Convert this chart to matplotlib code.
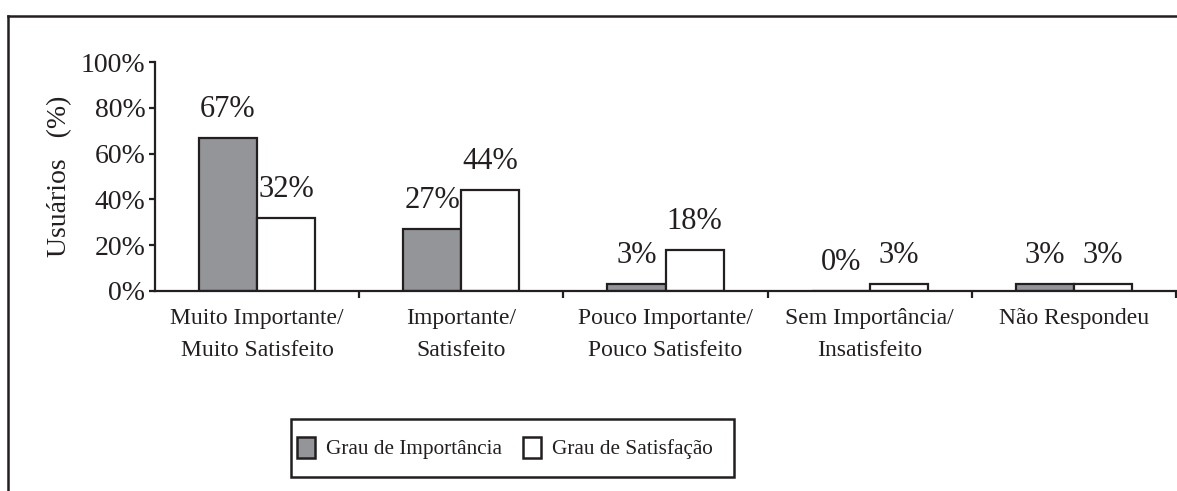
import matplotlib.pyplot as plt
import numpy as np
from matplotlib.lines import Line2D
from matplotlib.patches import Patch, Rectangle

# ---------- Data ----------
categories = [
    "Muito Importante/\nMuito Satisfeito",
    "Importante/\nSatisfeito",
    "Pouco Importante/\nPouco Satisfeito",
    "Sem Importância/\nInsatisfeito",
    "Não Respondeu",
]
importancia = [67, 27, 3, 0, 3]
satisfacao = [32, 44, 18, 3, 3]
yticks = [0, 20, 40, 60, 80, 100]

# ---------- Style ----------
GRAY = "#939598"
EDGE = "#231f20"
plt.rcParams["font.family"] = ["Liberation Serif", "DejaVu Serif"]

W, H = 1177, 491
fig = plt.figure(figsize=(W / 100, H / 100), dpi=100)
fig.patch.set_facecolor("white")

# axes placed in pixel terms
ax = fig.add_axes([155 / W, (H - 291) / H, (1176 - 155) / W, (291 - 62) / H])

x = np.arange(len(categories))
bw = 0.285
b1 = ax.bar(x - bw / 2, importancia, bw, color=GRAY, edgecolor=EDGE, lw=1.6)
b2 = ax.bar(x + bw / 2, satisfacao, bw, color="white", edgecolor=EDGE, lw=1.6)

ax.bar_label(b1, labels=[f"{v}%" for v in importancia], padding=10,
             fontsize=22, color=EDGE)
ax.bar_label(b2, labels=[f"{v}%" for v in satisfacao], padding=10,
             fontsize=22, color=EDGE)

ax.set_xlim(-0.5, len(categories) - 0.5)
ax.set_ylim(0, 100)
ax.set_yticks(yticks)
ax.set_yticklabels([f"{v}%" for v in yticks], fontsize=20, color=EDGE)

# boundary ticks below axis, labels at category centres
ax.set_xticks(np.arange(len(categories)) + 0.5)
ax.set_xticklabels([])
ax.set_xticks(x, minor=True)
ax.set_xticklabels(categories, minor=True, fontsize=17, color=EDGE,
                   linespacing=1.7)
ax.tick_params(axis="x", which="minor", length=0, pad=12)
ax.tick_params(axis="x", which="major", length=5, width=1.6, color=EDGE)
ax.tick_params(axis="y", length=4, width=1.6, color=EDGE, pad=3)

for s in ["top", "right"]:
    ax.spines[s].set_visible(False)
for s in ["left", "bottom"]:
    ax.spines[s].set_linewidth(1.6)
    ax.spines[s].set_color(EDGE)

ax.set_ylabel("Usuários   (%)", fontsize=20, color=EDGE, labelpad=6)

# ---------- Legend ----------
handles = [
    Patch(facecolor=GRAY, edgecolor=EDGE, lw=1.8),
    Patch(facecolor="white", edgecolor=EDGE, lw=1.8),
]
leg = fig.legend(handles, ["Grau de Importância", "Grau de Satisfação"],
                 loc="center left", bbox_to_anchor=(297 / W, 1 - 448 / H),
                 ncol=2, fontsize=15.3, frameon=False,
                 handlelength=0.85, handleheight=1.15, handletextpad=0.5,
                 columnspacing=1.0, borderpad=0, borderaxespad=0)
for t in leg.get_texts():
    t.set_color(EDGE)

# legend frame, drawn separately so its padding matches the original
fig.add_artist(Rectangle((291 / W, 1 - 477 / H), (734 - 291) / W, 58 / H,
                         transform=fig.transFigure, fill=False,
                         edgecolor=EDGE, lw=1.8))

# ---------- Outer frame (left and top only visible) ----------
fig.add_artist(Line2D([8 / W, 8 / W], [0, 1 - 16 / H], color=EDGE, lw=1.8))
fig.add_artist(Line2D([8 / W, 1], [1 - 16 / H, 1 - 16 / H], color=EDGE, lw=1.8))

fig.savefig("out.png", dpi=100, facecolor="white")
